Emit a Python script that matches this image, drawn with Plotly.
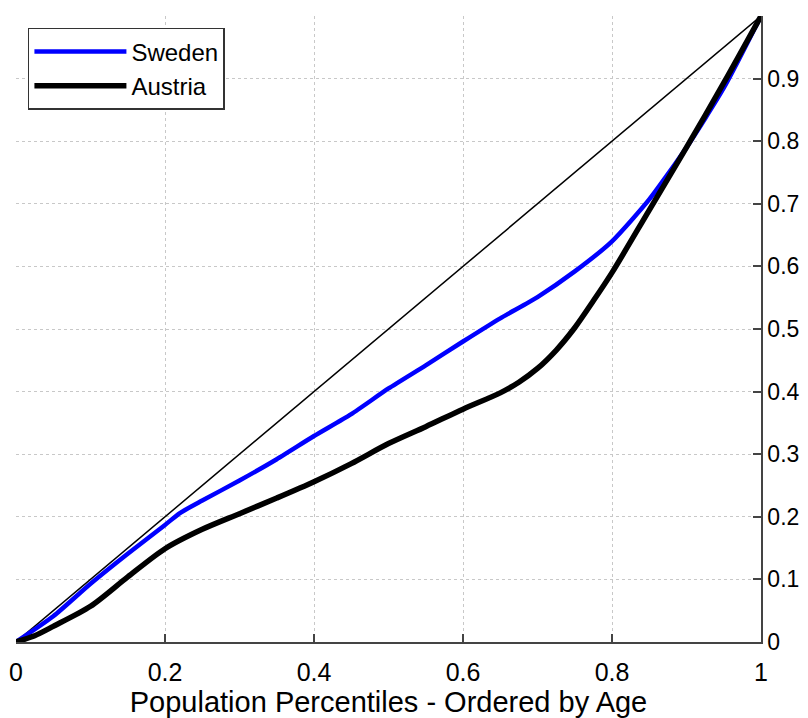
import plotly.graph_objects as go

# Sweden curve
sweden_x = [0, 0.05, 0.10, 0.15, 0.20, 0.22, 0.25, 0.30, 0.35, 0.40, 0.45, 0.50,
            0.55, 0.60, 0.65, 0.70, 0.75, 0.80, 0.85, 0.90, 0.95, 1.0]
sweden_y = [0, 0.041, 0.093, 0.141, 0.187, 0.206, 0.226, 0.258, 0.292, 0.329, 0.364, 0.405,
            0.442, 0.480, 0.517, 0.551, 0.592, 0.640, 0.707, 0.790, 0.885, 1.0]

# Austria curve
austria_x = [0, 0.025, 0.05, 0.10, 0.15, 0.20, 0.25, 0.30, 0.35, 0.40, 0.45, 0.50,
             0.55, 0.60, 0.65, 0.675, 0.70, 0.725, 0.75, 0.775, 0.80, 0.85, 0.90, 0.95, 1.0]
austria_y = [0, 0.010, 0.025, 0.057, 0.104, 0.149, 0.180, 0.205, 0.230, 0.256, 0.285, 0.317,
             0.344, 0.372, 0.398, 0.415, 0.437, 0.466, 0.502, 0.545, 0.590, 0.690, 0.790, 0.893, 1.0]

# Equality line
diag_x = [0, 1]
diag_y = [0, 1]

tick_vals_x = [0, 0.2, 0.4, 0.6, 0.8, 1]
tick_text_x = ["0", "0.2", "0.4", "0.6", "0.8", "1"]
tick_vals_y = [0, 0.1, 0.2, 0.3, 0.4, 0.5, 0.6, 0.7, 0.8, 0.9, 1]
tick_text_y = ["0", "0.1", "0.2", "0.3", "0.4", "0.5", "0.6", "0.7", "0.8", "0.9", "1"]

FONT = "Liberation Sans, Arial, sans-serif"

fig = go.Figure()
fig.add_trace(go.Scatter(x=diag_x, y=diag_y, mode="lines",
                         line=dict(color="black", width=1.5), showlegend=False,
                         hoverinfo="skip"))
fig.add_trace(go.Scatter(x=sweden_x, y=sweden_y, mode="lines", name="Sweden",
                         line=dict(color="#0000ff", width=4.5, shape="spline", smoothing=0.6)))
fig.add_trace(go.Scatter(x=austria_x, y=austria_y, mode="lines", name="Austria",
                         line=dict(color="black", width=5.5, shape="spline", smoothing=0.8)))

fig.update_layout(
    width=808, height=718,
    margin=dict(l=8, r=55, t=8, b=84),
    paper_bgcolor="white", plot_bgcolor="white",
    font=dict(family=FONT, size=25, color="black"),
    legend=dict(x=0.016, y=0.981, xanchor="left", yanchor="top",
                bgcolor="white", bordercolor="#333333", borderwidth=1.5,
                font=dict(family=FONT, size=24), itemwidth=92,
                tracegroupgap=0),
    xaxis=dict(range=[0, 1], tickvals=tick_vals_x, ticktext=tick_text_x,
               showgrid=True, gridcolor="#c8c8c8", griddash="dot", gridwidth=1,
               zeroline=False, showline=True, linecolor="#444444", linewidth=1.5,
               ticks="inside", ticklen=8, tickcolor="#444444", tickwidth=1.5,
               automargin=False, ticklabelstandoff=7,
               title=dict(text="Population Percentiles - Ordered by Age",
                          font=dict(family=FONT, size=29), standoff=0),
               tickfont=dict(family=FONT, size=25)),
    yaxis=dict(range=[0, 1], tickvals=tick_vals_y, ticktext=tick_text_y,
               side="right",
               showgrid=True, gridcolor="#c8c8c8", griddash="dot", gridwidth=1,
               zeroline=False, showline=True, linecolor="#444444", linewidth=1.5,
               ticks="inside", ticklen=8, tickcolor="#444444", tickwidth=1.5,
               automargin=False, ticklabelstandoff=0,
               tickfont=dict(family=FONT, size=23)),
)

fig.write_html("out.html")
